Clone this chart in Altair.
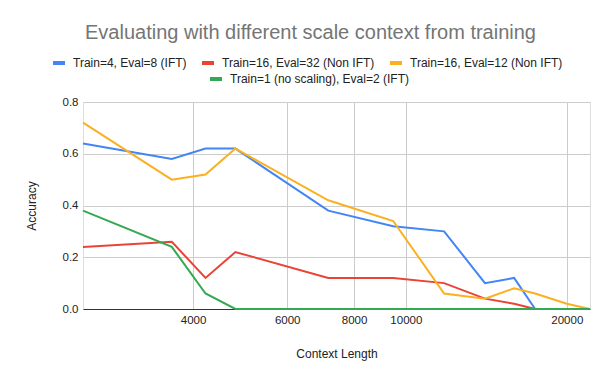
import altair as alt
import pandas as pd

# ---- data ----
context_length = [2490, 3650, 4220, 4800, 7160, 9470, 11790, 14060, 15940, 17450, 20000, 22100]
series_names = [
    "Train=4, Eval=8 (IFT)",
    "Train=16, Eval=32 (Non IFT)",
    "Train=16, Eval=12 (Non IFT)",
    "Train=1 (no scaling), Eval=2 (IFT)",
]
acc_train4_eval8 = [0.64, 0.58, 0.62, 0.62, 0.38, 0.32, 0.30, 0.10, 0.12, 0.0]
acc_train16_eval32 = [0.24, 0.26, 0.12, 0.22, 0.12, 0.12, 0.10, 0.04, 0.02, 0.0]
acc_train16_eval12 = [0.72, 0.50, 0.52, 0.62, 0.42, 0.34, 0.06, 0.04, 0.08, 0.06, 0.02, 0.0]
acc_train1_eval2 = [0.38, 0.24, 0.06, 0.0, 0.0, 0.0, 0.0, 0.0, 0.0, 0.0, 0.0, 0.0]
series_colors = ["#4285F4", "#EA4335", "#FBB022", "#34A853"]
x_ticks = [4000, 6000, 8000, 10000, 20000]
y_ticks = [0.0, 0.2, 0.4, 0.6, 0.8]

rows = []
for name, vals in zip(series_names, [acc_train4_eval8, acc_train16_eval32, acc_train16_eval12, acc_train1_eval2]):
    for i, v in enumerate(vals):
        rows.append({"series": name, "ctx": context_length[i], "acc": v, "idx": i})
df = pd.DataFrame(rows)

FONT = "Liberation Sans"

x_enc = alt.X(
    "ctx:Q",
    scale=alt.Scale(type="log", domain=[context_length[0], context_length[-1]], nice=False, zero=False),
    axis=alt.Axis(
        values=x_ticks, format="d", title="Context Length", ticks=False,
        domainColor="#333333", domainWidth=1, gridColor="#cccccc",
        labelFontSize=11.5, labelColor="#222222", labelFont=FONT, labelPadding=5,
        titleFontSize=12, titleColor="#222222", titleFont=FONT, titleFontWeight="normal",
        titlePadding=23,
    ),
)
y_enc = alt.Y(
    "acc:Q",
    scale=alt.Scale(domain=[0, 0.8], nice=False),
    axis=alt.Axis(
        values=y_ticks, format=".1f", title="Accuracy", ticks=False, domain=False,
        gridColor="#cccccc", labelFontSize=11.5, labelColor="#222222", labelFont=FONT,
        labelPadding=5, titleFontSize=12, titleColor="#222222", titleFont=FONT,
        titleFontWeight="normal", titlePadding=24,
    ),
)

def legend(lx, ly):
    return alt.Legend(
        orient="none", legendX=lx, legendY=ly, direction="horizontal",
        symbolType="stroke", symbolSize=144, symbolStrokeWidth=4,
        labelFontSize=12, labelFont=FONT, labelColor="#222222", labelLimit=400,
        labelOffset=6, columnPadding=7, padding=0, gridAlign="none",
    )

main = (
    alt.Chart(df)
    .transform_filter(alt.FieldOneOfPredicate(field="series", oneOf=series_names[:3]))
    .mark_line(strokeWidth=2)
    .encode(
        x=x_enc, y=y_enc,
        color=alt.Color("series:N", title=None,
                        scale=alt.Scale(domain=series_names[:3], range=series_colors[:3]),
                        legend=legend(-32, -47)),
        order="idx:Q",
    )
)
green = (
    alt.Chart(df)
    .transform_filter(alt.FieldEqualPredicate(field="series", equal=series_names[3]))
    .mark_line(strokeWidth=2)
    .encode(
        x=x_enc, y=y_enc,
        color=alt.Color("series:N", title=None,
                        scale=alt.Scale(domain=series_names[3:], range=series_colors[3:]),
                        legend=legend(125, -31)),
        order="idx:Q",
    )
)

chart = (
    alt.layer(main, green)
    .resolve_scale(color="independent")
    .properties(
        width=507, height=207,
        autosize=alt.AutoSizeParams(type="none"),
        padding={"left": 75, "top": 94, "right": 16, "bottom": 60},
        title=alt.TitleParams(
            "Evaluating with different scale context from training",
            fontSize=20, color="#757575", font=FONT, fontWeight="normal",
            anchor="middle", dx=-26, offset=12,
        ),
    )
    .configure_view(stroke="transparent")
    .configure(background="white")
)

chart.save("out.html", embed_options={"renderer": "svg", "actions": False})
